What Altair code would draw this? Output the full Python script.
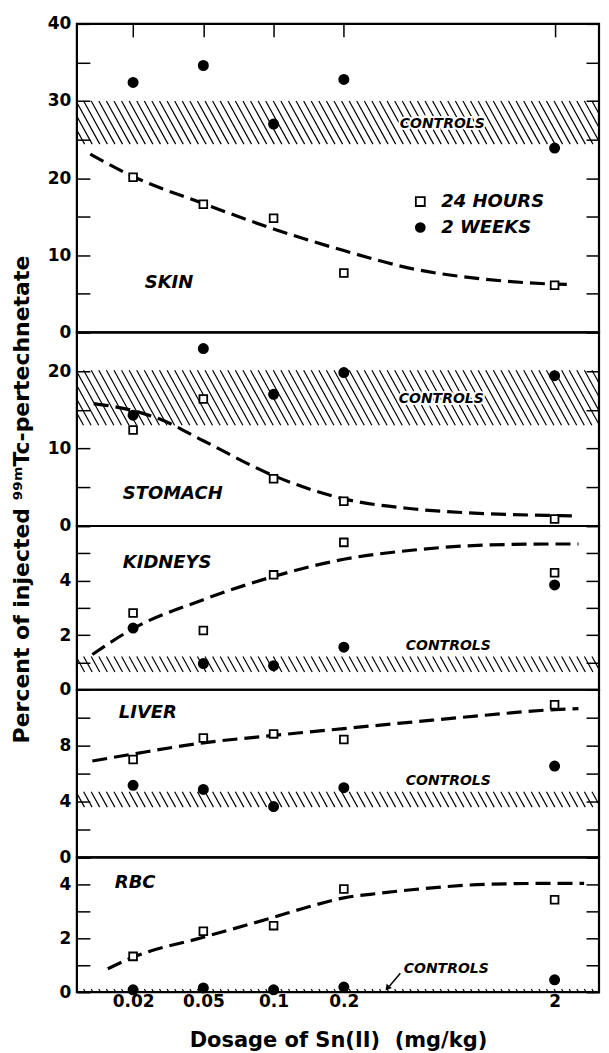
import altair as alt
import pandas as pd

# ---------------- data ----------------
dose_ladder = [0.02, 0.05, 0.1, 0.2, 0.5, 1, 2]   # axis is spaced in 1-2-5 steps
doses = [0.02, 0.05, 0.1, 0.2, 2]
dose_labels = ["0.02", "0.05", "0.1", "0.2", "2"]
series_names = ["24 HOURS", "2 WEEKS"]
organs = ["SKIN", "STOMACH", "KIDNEYS", "LIVER", "RBC"]

skin_24h = [20.1, 16.6, 14.8, 7.7, 6.1]
skin_2w = [32.4, 34.6, 27.0, 32.8, 23.9]
stomach_24h = [12.4, 16.4, 6.1, 3.2, 0.9]
stomach_2w = [14.3, 22.9, 17.0, 19.8, 19.4]
kidneys_24h = [2.81, 2.17, 4.21, 5.40, 4.29]
kidneys_2w = [2.26, 0.96, 0.88, 1.56, 3.84]
liver_24h = [7.01, 8.55, 8.84, 8.44, 10.93]
liver_2w = [5.16, 4.87, 3.64, 4.99, 6.54]
rbc_24h = [1.33, 2.26, 2.47, 3.83, 3.43]
rbc_2w = [0.09, 0.16, 0.09, 0.19, 0.46]

# dashed fitted curves (x in dose-ladder steps, 1 = 0.02 mg/kg)
skin_fit_x = [0.39, 1, 2, 3, 4, 5, 6, 7, 7.21]
skin_fit_y = [23.1, 20.2, 16.7, 13.4, 10.6, 8.2, 6.9, 6.25, 6.2]
stomach_fit_x = [0.44, 1, 1.38, 2, 3, 4, 5, 6, 7, 7.34]
stomach_fit_y = [15.8, 14.9, 13.8, 11.0, 6.5, 3.5, 2.2, 1.6, 1.35, 1.3]
kidneys_fit_x = [0.42, 1, 2, 3, 4, 5, 6, 7, 7.34]
kidneys_fit_y = [1.29, 2.24, 3.3, 4.15, 4.78, 5.12, 5.3, 5.34, 5.34]
liver_fit_x = [0.42, 1, 2, 3, 4, 5, 6, 7, 7.34]
liver_fit_y = [6.9, 7.4, 8.2, 8.73, 9.22, 9.7, 10.17, 10.58, 10.65]
rbc_fit_x = [0.64, 1, 2, 3, 3.5, 4, 4.5, 5, 6, 7, 7.42]
rbc_fit_y = [0.87, 1.30, 2.04, 2.78, 3.17, 3.5, 3.67, 3.81, 4.0, 4.04, 4.04]

# control ranges (low, high)
skin_controls = [24.4, 30.0]
stomach_controls = [13.0, 20.1]
kidneys_controls = [0.65, 1.22]
liver_controls = [3.6, 4.7]
rbc_controls = [0.0, 0.12]

# y ranges, tick values and labelled values
skin_ymax, skin_ticks, skin_labels = 40, [0, 5, 10, 15, 20, 25, 30, 35, 40], [0, 10, 20, 30, 40]
stomach_ymax, stomach_ticks, stomach_labels = 25, [0, 5, 10, 15, 20, 25], [0, 10, 20]
kidneys_ymax, kidneys_ticks, kidneys_labels = 6, [0, 1, 2, 3, 4, 5, 6], [0, 2, 4]
liver_ymax, liver_ticks, liver_labels = 12, [0, 2, 4, 6, 8, 10, 12], [0, 4, 8]
rbc_ymax, rbc_ticks, rbc_labels = 5, [0, 1, 2, 3, 4, 5], [0, 2, 4]

# ---------------- styling ----------------
FONT = "DejaVu Sans"
W = 523
PX_PER_X = 70.37
XDOM = [0.2, 0.2 + W / PX_PER_X]
TICK = 13

dose_pos = [dose_ladder.index(d) + 1 for d in doses]
label_expr = " : ".join(
    f"datum.value == {p} ? '{l}'" for p, l in zip(dose_pos, dose_labels)) + " : ''"

legend = alt.Legend(
    orient="none", legendX=335, legendY=169, title=None, padding=0,
    labelFont=FONT, labelFontSize=18, labelFontWeight="bold", labelFontStyle="italic",
    labelColor="black", symbolStrokeColor="black", symbolStrokeWidth=1.8,
    symbolSize=80, rowPadding=8, labelOffset=12,
)


def panel(name, h, ymax, ticks, labels, v24, v2w, fx, fy, ctrl, organ_xy, ctrl_xy,
          top_axis=False, bottom_axis=False, ytitle=False, arrow=False, show_legend=False):
    xs = alt.Scale(domain=XDOM, nice=False, zero=False)
    ys = alt.Scale(domain=[0, ymax], nice=False, zero=False)

    pts = pd.DataFrame({
        "pos": dose_pos + dose_pos,
        "value": v24 + v2w,
        "series": [series_names[0]] * len(v24) + [series_names[1]] * len(v2w),
    })
    fit = pd.DataFrame({"pos": fx, "value": fy})

    if top_axis:
        xaxis = alt.Axis(orient="top", offset=-TICK, tickSize=TICK, labels=False, domain=False,
                         values=dose_pos, tickColor="black", tickWidth=1.5, grid=False, title=None)
    elif bottom_axis:
        xaxis = alt.Axis(orient="bottom", values=dose_pos, labelExpr=label_expr, ticks=False,
                         tickSize=0, domain=False, grid=False, labelPadding=1.5,
                         labelFont=FONT, labelFontSize=17, labelFontWeight="bold", labelColor="black",
                         title="Dosage of Sn(II)\u00a0\u00a0(mg/kg)", titleFont=FONT, titleFontSize=21,
                         titleFontWeight="bold", titleColor="black", titlePadding=20)
    else:
        xaxis = None

    lab_expr = f"indexof({labels}, datum.value) >= 0 ? datum.label : ''"
    left_kw = dict(orient="left", offset=-TICK, tickSize=TICK, domain=False, values=ticks,
                   labelExpr=lab_expr, labelFont=FONT, labelFontSize=17, labelFontWeight="bold",
                   labelColor="black", labelPadding=6, tickColor="black", tickWidth=1.5,
                   grid=False, labelBaseline="middle")
    if ytitle:
        left_kw.update(title="Percent of injected \u2079\u2079\u1d50Tc-pertechnetate",
                       titleFont=FONT, titleFontSize=22, titleFontWeight="bold", titleColor="black",
                       titleAngle=270, titleX=-68, titleY=-27, titleAlign="center",
                       titleBaseline="middle")
    else:
        left_kw.update(title=None)
    yleft = alt.Axis(**left_kw)
    yright = alt.Axis(orient="right", offset=-TICK, tickSize=TICK, labels=False, domain=False,
                      values=ticks, tickColor="black", tickWidth=1.5, grid=False, title=None)

    # hatched control band
    lo, hi = ctrl
    band_px = (hi - lo) / ymax * h
    d = 0.55 * band_px / PX_PER_X
    step = 7.6 / PX_PER_X
    hatch = alt.Chart(alt.sequence(-1.0, 8.6, step, as_="h")).transform_calculate(
        h2=f"datum.h + {d}", yhi=f"{hi}", ylo=f"{lo}"
    ).mark_rule(clip=True, strokeWidth=1.2, color="black").encode(
        x=alt.X("h:Q", scale=xs, axis=None), x2="h2:Q",
        y=alt.Y("yhi:Q", scale=ys, axis=None), y2="ylo:Q",
    )

    ctrl_df = pd.DataFrame({"t": ["CONTROLS"]})
    ctrl_halo = alt.Chart(ctrl_df).mark_text(
        font=FONT, fontSize=14, fontWeight="bold", fontStyle="italic", color="white",
        stroke="white", strokeWidth=4, align="center", baseline="middle",
    ).encode(x=alt.value(ctrl_xy[0]), y=alt.value(ctrl_xy[1]), text="t:N")
    ctrl_text = alt.Chart(ctrl_df).mark_text(
        font=FONT, fontSize=14, fontWeight="bold", fontStyle="italic", color="black",
        align="center", baseline="middle",
    ).encode(x=alt.value(ctrl_xy[0]), y=alt.value(ctrl_xy[1]), text="t:N")

    curve = alt.Chart(fit).mark_line(
        color="black", strokeWidth=3.2, strokeDash=[15, 7], interpolate="monotone"
    ).encode(
        x=alt.X("pos:Q", scale=xs, axis=None),
        y=alt.Y("value:Q", scale=ys, axis=None),
    )

    leg = legend if show_legend else None
    points = alt.Chart(pts).mark_point(filled=True, strokeWidth=1.8, opacity=1).encode(
        x=alt.X("pos:Q", scale=xs, axis=xaxis),
        y=alt.Y("value:Q", scale=ys, axis=yleft),
        shape=alt.Shape("series:N", scale=alt.Scale(domain=series_names, range=["square", "circle"]),
                        legend=leg),
        fill=alt.Fill("series:N", scale=alt.Scale(domain=series_names, range=["white", "black"]),
                      legend=leg),
        stroke=alt.Stroke("series:N", scale=alt.Scale(domain=series_names, range=["black", "black"]),
                          legend=leg),
        size=alt.Size("series:N", scale=alt.Scale(domain=series_names, range=[60, 85]), legend=None),
    )

    right = alt.Chart(pts).mark_point(opacity=0).encode(
        x=alt.X("pos:Q", scale=xs, axis=None),
        y=alt.Y("value:Q", scale=ys, axis=yright),
    )

    organ = alt.Chart(pd.DataFrame({"t": [name]})).mark_text(
        font=FONT, fontSize=18, fontWeight="bold", fontStyle="italic", color="black",
        align="left", baseline="middle",
    ).encode(x=alt.value(organ_xy[0]), y=alt.value(organ_xy[1]), text="t:N")

    layers = [hatch, ctrl_halo, ctrl_text, curve, points, right, organ]

    if arrow:
        arr_df = pd.DataFrame({"t": ["CONTROLS"]})
        shaft = alt.Chart(arr_df).mark_rule(color="black", strokeWidth=1.5).encode(
            x=alt.value(324), x2=alt.value(313), y=alt.value(116), y2=alt.value(129))
        head = alt.Chart(arr_df).mark_point(
            shape="triangle-down", filled=True, color="black", size=45, angle=39, opacity=1
        ).encode(x=alt.value(311), y=alt.value(131))
        layers += [shaft, head]

    return alt.layer(*layers).resolve_axis(x="independent", y="independent").properties(
        width=W, height=h)


p1 = panel(organs[0], 309, skin_ymax, skin_ticks, skin_labels, skin_24h, skin_2w,
           skin_fit_x, skin_fit_y, skin_controls, (68, 260), (366, 100), top_axis=True,
           show_legend=True)
p2 = panel(organs[1], 194, stomach_ymax, stomach_ticks, stomach_labels, stomach_24h, stomach_2w,
           stomach_fit_x, stomach_fit_y, stomach_controls, (46, 162), (365, 67))
p3 = panel(organs[2], 164, kidneys_ymax, kidneys_ticks, kidneys_labels, kidneys_24h, kidneys_2w,
           kidneys_fit_x, kidneys_fit_y, kidneys_controls, (46, 37), (372, 120), ytitle=True)
p4 = panel(organs[3], 168, liver_ymax, liver_ticks, liver_labels, liver_24h, liver_2w,
           liver_fit_x, liver_fit_y, liver_controls, (42, 23), (372, 91))
p5 = panel(organs[4], 135, rbc_ymax, rbc_ticks, rbc_labels, rbc_24h, rbc_2w,
           rbc_fit_x, rbc_fit_y, rbc_controls, (38, 26), (370, 112), bottom_axis=True, arrow=True)

chart = alt.vconcat(p1, p2, p3, p4, p5, spacing=0, bounds="flush").resolve_legend(
    shape="independent", fill="independent", stroke="independent"
).properties(
    padding={"left": 1, "top": 4, "right": 0, "bottom": 0},
    background="white",
).configure(
    font=FONT,
    view=alt.ViewConfig(stroke="black", strokeWidth=2.2),
)

chart.save("out.html", embed_options={"renderer": "svg", "actions": False})
